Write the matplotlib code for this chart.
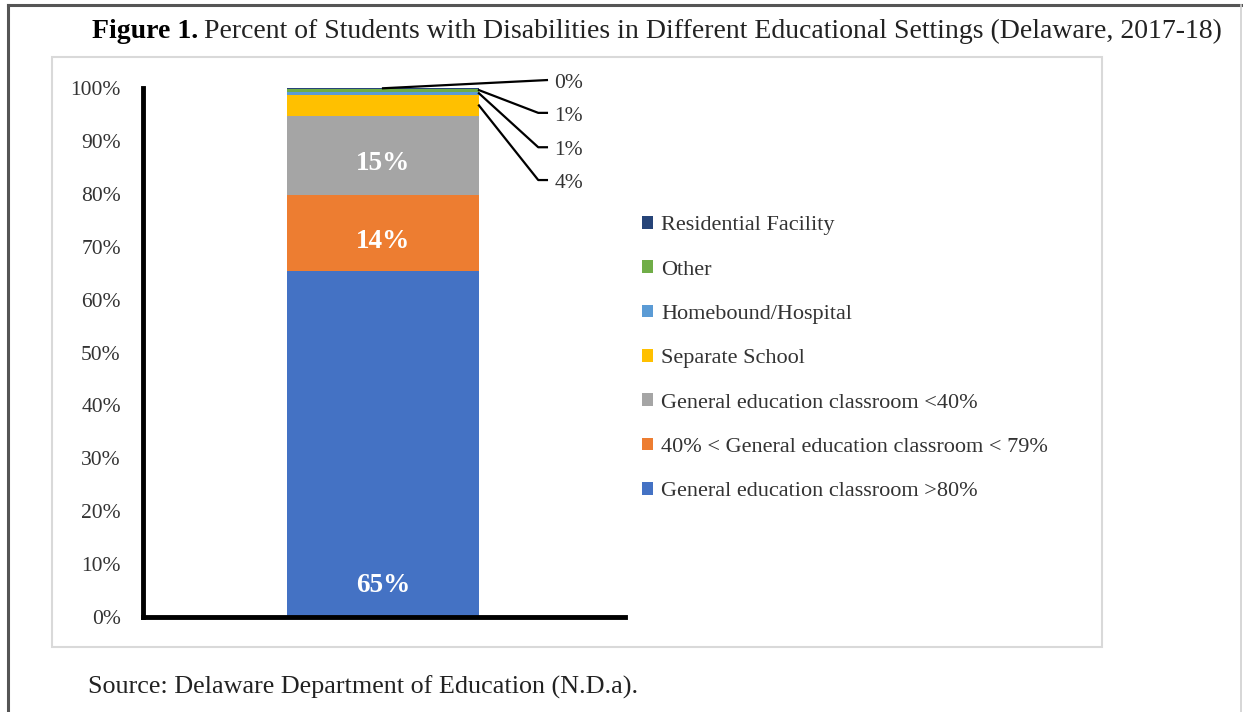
import matplotlib.pyplot as plt
from matplotlib.patches import Patch, Rectangle
from matplotlib.lines import Line2D

plt.rcParams['font.family'] = ['Liberation Serif', 'DejaVu Serif']

# settings, stacked bottom to top
settings = [
    "General education classroom >80%",
    "40% < General education classroom < 79%",
    "General education classroom <40%",
    "Separate School",
    "Homebound/Hospital",
    "Other",
    "Residential Facility",
]
percents = [65.4, 14.4, 14.9, 4.0, 0.6, 0.6, 0.1]
colors = ["#4472C4", "#ED7D31", "#A5A5A5", "#FFC000", "#5B9BD5", "#70AD47", "#264478"]
yticks = list(range(0, 101, 10))

W, H = 1243, 712
fig = plt.figure(figsize=(W / 100, H / 100), dpi=100)

def fx(px):
    return px / W

def fy(py):
    return 1 - py / H

# outer frame and chart area box
fig.add_artist(Line2D([fx(8), fx(1241)], [fy(5), fy(5)], color="#555555", lw=2.2))
fig.add_artist(Line2D([fx(8), fx(8)], [fy(5), 0], color="#555555", lw=2.2))
fig.add_artist(Line2D([fx(1241), fx(1241)], [fy(5), 0], color="#d0d0d0", lw=1.2))
fig.add_artist(Rectangle((fx(52), fy(647)), fx(1102) - fx(52), fy(57) - fy(647),
                         transform=fig.transFigure, fill=False, ec="#d9d9d9", lw=1.5))

# title and source line
fig.text(fx(92), fy(31), "Figure 1.", fontsize=20, fontweight="bold", va="center", ha="left")
fig.text(fx(204), fy(31), "Percent of Students with Disabilities in Different Educational Settings (Delaware, 2017-18)",
         fontsize=20, va="center", ha="left", color="#222222")
fig.text(fx(88), fy(687), "Source: Delaware Department of Education (N.D.a).", fontsize=18.8,
         va="center", ha="left", color="#222222")

ax = fig.add_axes([fx(143), fy(617), fx(625) - fx(143), fy(88) - fy(617)])
ax.set_xlim(0, 1)
ax.set_ylim(0, 100)

bottom = 0
mids = []
for name, val, col in zip(settings, percents, colors):
    ax.bar(0.498, val, width=0.398, bottom=bottom, color=col, label=name)
    mids.append(bottom + val / 2)
    bottom += val

# white labels inside the three large segments
for i in range(3):
    ly = 6.0 if i == 0 else mids[i] - 1.6
    ax.text(0.498, ly, f"{percents[i]:.0f}%", color="white", fontsize=19.5,
            fontweight="bold", ha="center", va="center")

# leader lines for the small segments at the top
bar_right = 0.697
label_y = {3: 82.6, 4: 88.8, 5: 95.3, 6: 101.5}
for i, ly in label_y.items():
    if i == 6:
        xs, ys = [0.498, 0.838], [mids[i], ly]
    else:
        xs, ys = [bar_right, 0.820, 0.838], [mids[i], ly, ly]
    ax.plot(xs, ys, color="black", lw=1.6, clip_on=False)
    ax.text(0.853, ly - 0.6, f"{percents[i]:.0f}%", fontsize=15.5, color="#333333",
            ha="left", va="center", clip_on=False)

for side in ["top", "right"]:
    ax.spines[side].set_visible(False)
for side in ["left", "bottom"]:
    ax.spines[side].set_linewidth(3.5)
    ax.spines[side].set_capstyle("projecting")
ax.set_xticks([])
ax.set_yticks(yticks)
ax.set_yticklabels([f"{v}%" for v in yticks], fontsize=15.5, color="#333333")
ax.tick_params(axis="y", length=0, pad=16)

handles = [Patch(facecolor=c, edgecolor="none") for c in colors][::-1]
fig.legend(handles, settings[::-1], loc="upper left", bbox_to_anchor=(fx(642), fy(216)),
           frameon=False, fontsize=16, handlelength=0.5, handleheight=0.5,
           handletextpad=0.35, labelspacing=1.13, borderpad=0, borderaxespad=0,
           labelcolor="#333333")

fig.savefig("out.png", dpi=100)
